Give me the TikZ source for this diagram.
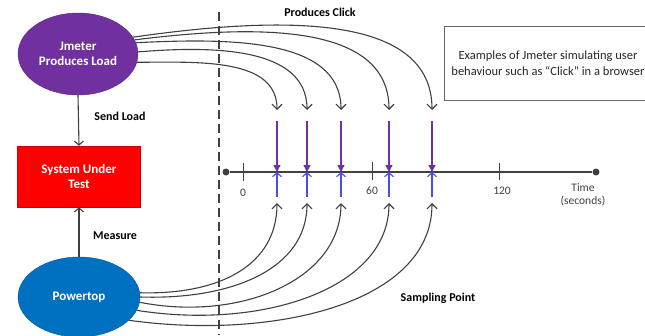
\documentclass[tikz,border=0pt]{standalone}
\usepackage{fontspec}
\setmainfont{Carlito}
\usetikzlibrary{arrows.meta,shapes.geometric}
\definecolor{jpurple}{HTML}{7030A0}
\definecolor{pblue}{HTML}{0070C0}
\definecolor{arrblue}{HTML}{4B4BEF}
\definecolor{linegray}{HTML}{404040}
\definecolor{boxred}{HTML}{FF0000}
\begin{document}
\begin{tikzpicture}[x=1pt,y=-1pt,
  curve/.style={draw=linegray, line width=1.1pt, -{Straight Barb[length=5pt,width=10pt,line width=1.1pt]}},
  link/.style={draw=linegray, line width=1.1pt, -{Straight Barb[length=4pt,width=9pt,line width=1.1pt]}},
  parr/.style={draw=jpurple, line width=1.3pt, -{Triangle[length=7pt,width=7pt]}},
  barr/.style={draw=arrblue, line width=1.3pt, -{Straight Barb[length=4pt,width=9pt,line width=1.1pt]}},
  ellnode/.style={ellipse, inner sep=0pt, text=white, font=\fontsize{13}{15.5}\selectfont\bfseries, align=center},
  lbl/.style={font=\fontsize{12}{14}\selectfont\bfseries, text=black},
  num/.style={font=\fontsize{11.5}{13.5}\selectfont, text=linegray, align=center},
  dot/.style={circle, fill=linegray, inner sep=0pt, minimum size=7pt},
  tick/.style={draw=linegray, line width=1pt}
]
\useasboundingbox (0,0) rectangle (645,335);

% main nodes
\node[ellnode, fill=jpurple, draw=jpurple!80!black, minimum width=120pt, minimum height=82pt] (J) at (78,54) {Jmeter\\Produces Load};
\node[rectangle, fill=boxred, draw=boxred!80!black, minimum width=123pt, minimum height=61pt, inner sep=0pt,
      text=white, font=\fontsize{13}{15.5}\selectfont\bfseries, align=center] (S) at (79,176.5) {System Under\\Test};
\node[ellnode, fill=pblue, draw=pblue!80!black, minimum width=122pt, minimum height=80pt] (P) at (79,297) {Powertop};

\draw[link] (J.south) -- (S.north);
\draw[link] (P.north) -- (S.south);
\node[lbl] at (120,116) {Send Load};
\node[lbl] at (115,236) {Measure};

% dashed divider
\draw[draw=linegray, line width=1.2pt, dash pattern=on 9pt off 5pt] (219,12) -- (219,335);

\node[lbl] at (320,12) {Produces Click};
\node[lbl] at (438,298) {Sampling Point};

% text box
\node[draw=linegray!80, line width=0.8pt, minimum width=208pt, minimum height=74pt, inner sep=0pt,
      font=\fontsize{12.5}{15.5}\selectfont, align=center, text=black!85] (E) at (548,63)
  {Examples of Jmeter simulating user\\behaviour such as “Click” in a browser};

% timeline
\node[dot] (T0) at (226,172) {};
\node[dot] (T1) at (596,172) {};
\draw[draw=linegray, line width=1.3pt] (T0) -- (T1);
\draw[tick] (243,163) -- (243,181);
\draw[tick] (372,162) -- (372,180);
\draw[tick] (499,163) -- (499,180);
\node[num] at (243,193) {0};
\node[num] at (372,191) {60};
\node[num] at (502,191) {120};
\node[num] at (583,195) {Time\\(seconds)};

% coordinates
\foreach \i/\x in {1/277,2/307,3/341,4/389,5/432}{
  \coordinate (t\i) at (\x,110);
  \coordinate (pu\i) at (\x,121);
  \coordinate (a\i) at (\x,172);
  \coordinate (b\i) at (\x,197);
  \coordinate (s\i) at (\x,203);
  \draw[parr] (pu\i) -- (a\i);
  \draw[barr] (b\i) -- (a\i);
}

% top curves
\draw[curve] (J.17) .. controls (287,15) and (432,15) .. (t5);
\draw[curve] (J.14) .. controls (260,24) and (389,24) .. (t4);
\draw[curve] (J.11) .. controls (230,38) and (341,38) .. (t3);
\draw[curve] (J.2) .. controls (210,46) and (307,46) .. (t2);
\draw[curve] (J.-8) .. controls (200,62) and (277,58) .. (t1);

% bottom curves
\draw[curve] (P.4) .. controls (220,295) and (277,265) .. (s1);
\draw[curve] (P.0) .. controls (230,300) and (307,270) .. (s2);
\draw[curve] (P.-5) .. controls (240,322) and (341,280) .. (s3);
\draw[curve] (P.-13) .. controls (260,330) and (389,290) .. (s4);
\draw[curve] (P.-25) .. controls (270,340) and (432,305) .. (s5);
\end{tikzpicture}
\end{document}
